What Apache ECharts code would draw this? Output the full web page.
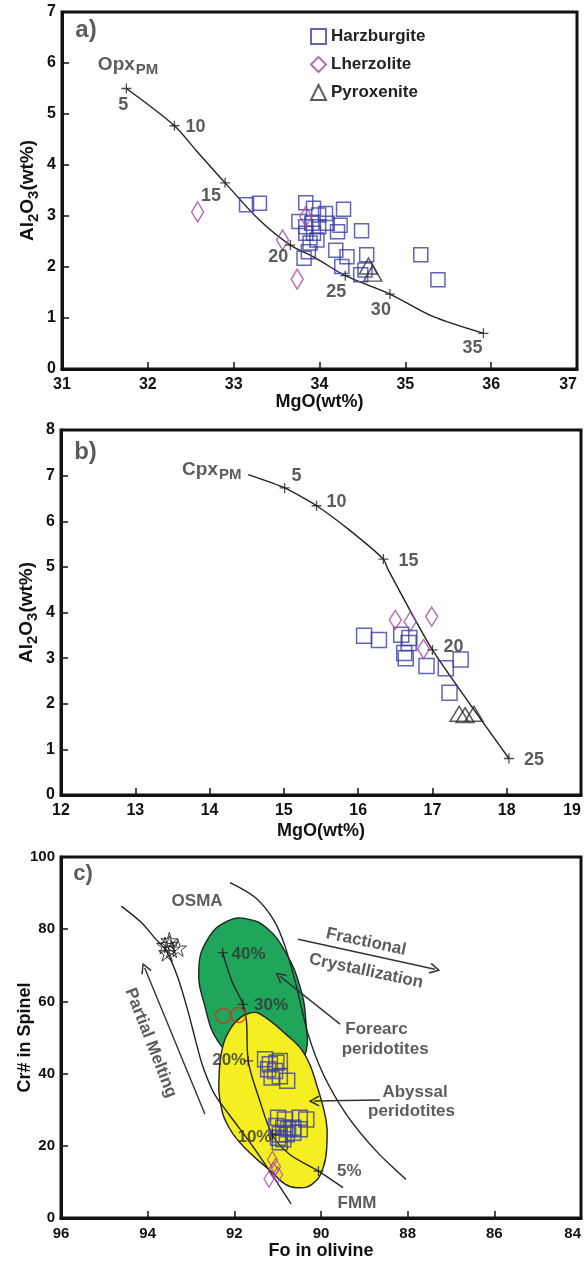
<!DOCTYPE html>
<html>
<head>
<meta charset="utf-8">
<script src="https://cdn.jsdelivr.net/npm/echarts@6/dist/echarts.min.js"></script>
<style>
  html, body { margin: 0; padding: 0; background: #fff; }
  #chart { width: 587px; height: 1261px; }
</style>
</head>
<body>
<div id="chart"></div>
<script>
// ---------- (a) Orthopyroxene: Al2O3 vs MgO ----------
const opxCurve = [[31.75,5.50],[32.31,4.77],[32.56,4.29],[32.90,3.65],[33.30,2.92],[33.66,2.43],[33.96,2.17],[34.30,1.83],[34.82,1.47],[35.32,1.03],[35.91,0.70]];
const opxMeltPoints = [[31.75,5.50],[32.31,4.77],[32.90,3.65],[33.66,2.43],[34.30,1.83],[34.82,1.47],[35.91,0.70]];
const opxMeltSteps = ['5','10','15','20','25','30','35'];
const harzA = [[33.15,3.22],[33.30,3.25],[33.84,3.26],[33.93,3.15],[33.99,3.02],[34.07,3.05],[34.28,3.13],[33.76,2.89],[33.84,2.79],[33.91,2.86],[33.99,2.79],[34.09,2.86],[34.24,2.82],[34.21,2.69],[34.49,2.71],[33.84,2.66],[33.93,2.66],[33.89,2.47],[33.97,2.53],[33.82,2.17],[33.87,2.30],[34.19,2.33],[34.32,2.20],[34.55,2.24],[34.26,2.01],[34.48,1.85],[34.53,1.94],[35.18,2.24],[35.38,1.75]];
const lherzA = [[32.58,3.08],[33.57,2.53],[33.74,1.76],[33.84,2.99]];
const pyroxA = [[34.57,2.02],[34.62,1.88]];

// ---------- (b) Clinopyroxene: Al2O3 vs MgO ----------
const cpxCurve = [[14.52,7.02],[15.01,6.73],[15.44,6.34],[15.88,5.81],[16.34,5.17],[16.40,4.95],[17.00,3.18],[18.03,0.80]];
const cpxMeltPoints = [[15.01,6.73],[15.44,6.34],[16.34,5.17],[17.00,3.18],[18.03,0.80]];
const cpxMeltSteps = ['5','10','15','20','25'];
const harzB = [[16.08,3.49],[16.28,3.40],[16.58,3.51],[16.69,3.44],[16.68,3.33],[16.62,3.11],[16.64,3.00],[16.92,2.83],[17.18,2.78],[17.38,2.97],[17.23,2.24]];
const lherzB = [[16.50,3.84],[16.70,3.80],[16.99,3.91],[16.88,3.20]];
const pyroxB = [[17.36,1.78],[17.44,1.75],[17.56,1.78]];

// ---------- (c) Cr# in spinel vs Fo in olivine ----------
const forearcField = [[92.15,82.3],[91.69,82.8],[91.23,80.1],[90.81,73.4],[90.49,64.3],[90.35,54.6],[90.37,44.9],[90.72,39.3],[91.30,39.3],[91.87,43.5],[92.38,49.0],[92.68,58.7],[92.82,69.0],[92.61,77.3]];
const abyssalField = [[91.64,56.8],[91.42,56.6],[90.82,51.0],[90.38,45.4],[90.08,36.1],[89.88,26.9],[89.86,21.3],[89.95,13.9],[90.21,9.3],[90.56,8.4],[90.82,9.3],[91.16,13.0],[91.69,18.6],[92.12,25.0],[92.33,32.4],[92.35,39.9],[92.29,46.3],[92.12,51.8],[91.86,55.5]];
const osmaLeft = [[94.61,86.4],[94.14,81.8],[93.84,77.6],[93.57,74.0],[93.30,66.5],[93.07,57.3],[92.89,49.0],[92.73,42.1],[92.47,34.6],[92.13,28.8],[91.50,18.6],[90.69,3.9]];
const osmaRight = [[92.10,92.9],[91.51,88.7],[91.08,82.3],[90.82,74.9],[90.56,63.8],[90.30,51.0],[89.95,39.9],[89.42,28.8],[88.73,18.6],[88.04,10.7]];
const fmmCurve = [[92.27,73.5],[92.06,65.7],[91.80,59.2],[91.72,54.6],[91.68,43.5],[91.41,32.4],[91.12,23.0],[90.72,17.6],[90.06,13.0],[89.49,8.4]];
const fmmMeltPoints = [[92.27,73.5],[91.80,59.2],[91.68,43.5],[91.12,23.0],[90.06,13.0]];
const fmmMeltSteps = ['40%','30%','20%','10%','5%'];
const harzC = [[91.29,44.0],[91.18,42.6],[91.03,43.0],[90.95,43.5],[91.22,41.2],[91.06,40.7],[91.14,38.9],[90.95,39.3],[90.78,38.0],[90.99,27.8],[90.83,27.3],[90.49,27.8],[90.34,27.3],[91.03,25.5],[90.87,25.0],[90.76,24.6],[90.64,25.0],[90.49,24.6],[90.95,23.2],[90.79,23.2],[90.64,23.6],[90.99,22.2],[90.87,21.8],[90.95,21.0]];
const lherzC = [[91.12,16.2],[91.05,14.2],[91.00,12.0],[91.20,10.8],[91.10,13.2]];
const starsC = [[93.60,75.5],[93.50,76.8],[93.45,74.5],[93.55,73.5],[93.30,74.8],[93.50,75.8]];
const circlesC = [[92.26,56.0],[91.91,56.2]];
const arrowsC = [
  [[90.53,77.2],[87.37,68.9]],   // fractional crystallization
  [[89.56,53.7],[90.95,67.0]],   // forearc pointer
  [[88.64,32.7],[90.16,32.4]],   // abyssal pointer
  [[92.68,28.8],[94.07,69.3]]    // partial melting
];

// ---------- styling ----------
const FONT = "'Liberation Sans', Arial, Helvetica, sans-serif";
const INK = '#111';
const TXT = '#333';
const BLUE = '#3b3ea6';
const MAGENTA = '#a646a8';
const PLUS = 'path://M0,4.35H10V5.65H0Z M4.35,0H5.65V10H4.35Z';
const STAR = 'path://M50,0 L61,35 L98,35 L68,57 L79,91 L50,70 L21,91 L32,57 L2,35 L39,35 Z';
const CHEVRON = 'path://M5,0 L10,9 L8.9,10 L5,2.8 L1.1,10 L0,9 Z';

const grids = [
  { left: 62, top: 12, width: 515, height: 357 },
  { left: 61, top: 430, width: 520, height: 365 },
  { left: 61, top: 857, width: 520, height: 361 }
].map(g => Object.assign({
  show: true, borderColor: INK, borderWidth: 3, backgroundColor: 'transparent',
  containLabel: false, outerBoundsMode: 'none'
}, g));

function valueAxis(extra, labelSize) {
  return Object.assign({
    type: 'value',
    axisLine: { show: true, onZero: false, lineStyle: { color: INK, width: 3 } },
    axisTick: { show: true, inside: true, length: 7, lineStyle: { color: INK, width: 1.5 } },
    splitLine: { show: false },
    nameLocation: 'middle',
    nameMoveOverlap: false,
    nameTextStyle: { color: INK, fontFamily: FONT, fontWeight: 'bold', fontSize: 18 }
  }, extra, {
    axisLabel: Object.assign({
      color: INK, fontFamily: FONT, fontWeight: 'bold', fontSize: labelSize,
      showMinLabel: true, showMaxLabel: true, hideOverlap: false
    }, extra.axisLabel || {})
  });
}

const oxideName = '{n|Al}{s|2}{n|O}{s|3}{n|(wt%)}';
const oxideRich = {
  n: { fontFamily: FONT, fontWeight: 'bold', fontSize: 19, color: INK },
  s: { fontFamily: FONT, fontWeight: 'bold', fontSize: 15, color: INK, padding: [11, 0, 0, 0] }
};

const xAxes = [
  valueAxis({ gridIndex: 0, min: 31, max: 37, interval: 1, name: 'MgO(wt%)', nameGap: 24, axisLabel: { margin: 8, alignMaxLabel: 'right' } }, 16),
  valueAxis({ gridIndex: 1, min: 12, max: 19, interval: 1, name: 'MgO(wt%)', nameGap: 27, axisLabel: { margin: 8, alignMaxLabel: 'right' } }, 16),
  // Fo decreases to the right, so the right-most label is the axis minimum
  valueAxis({ gridIndex: 2, min: 84, max: 96, interval: 2, inverse: true, name: 'Fo in olivine', nameGap: 24, axisLabel: { margin: 8, alignMinLabel: 'right' } }, 15)
];
const yAxes = [
  valueAxis({ gridIndex: 0, min: 0, max: 7, interval: 1, name: oxideName, nameRotate: 90, nameGap: 21, axisLabel: { margin: 6 } }, 16),
  valueAxis({ gridIndex: 1, min: 0, max: 8, interval: 1, name: oxideName, nameRotate: 90, nameGap: 21, axisLabel: { margin: 6 } }, 16),
  valueAxis({ gridIndex: 2, min: 0, max: 100, interval: 20, name: 'Cr# in Spinel', nameRotate: 90, nameGap: 27, axisLabel: { margin: 6 } }, 15)
];
yAxes[0].nameTextStyle = Object.assign({}, yAxes[0].nameTextStyle, { rich: oxideRich });
yAxes[1].nameTextStyle = Object.assign({}, yAxes[1].nameTextStyle, { rich: oxideRich });

function on(gi) { return { xAxisIndex: gi, yAxisIndex: gi }; }

function curve(gi, pts, smooth) {
  return Object.assign({
    type: 'line', data: pts, smooth: smooth, symbol: 'none', silent: true, z: 3,
    lineStyle: { color: '#222', width: 1.4 }
  }, on(gi));
}

function meltTicks(gi, pts, steps, offsets, fontSize) {
  return Object.assign({
    type: 'scatter', symbol: PLUS, symbolSize: 10, silent: true, z: 6,
    itemStyle: { color: '#222' },
    label: { show: true, position: 'inside', color: TXT, fontFamily: FONT, fontWeight: 'bold', fontSize: fontSize },
    data: pts.map((p, i) => ({ value: p, label: { formatter: steps[i], offset: offsets[i] } }))
  }, on(gi));
}

function samples(gi, name, pts, symbol, size, color, width) {
  return Object.assign({
    type: 'scatter', name: name, data: pts, symbol: symbol, symbolSize: size, z: 5,
    itemStyle: { color: 'rgba(255,255,255,0)', borderColor: color, borderWidth: width || 1.5 },
    emphasis: { disabled: true }
  }, on(gi));
}

function texts(gi, items) {
  return Object.assign({
    type: 'scatter', symbol: 'circle', symbolSize: 1, silent: true, z: 8,
    itemStyle: { color: 'rgba(0,0,0,0)' },
    data: items.map(t => ({
      value: t.at,
      label: Object.assign({
        show: true, position: 'inside', formatter: t.text, rotate: t.rotate || 0,
        color: TXT, fontFamily: FONT, fontWeight: 'bold', fontSize: t.size || 17, lineHeight: (t.size || 17) + 2
      }, t.extra || {})
    }))
  }, on(gi));
}

function field(gi, pts, fill) {
  return Object.assign({
    type: 'custom', silent: true, z: 1,
    data: [pts[0]],
    renderItem: (params, api) => ({
      type: 'polygon',
      shape: { points: pts.map(p => api.coord(p)), smooth: 0.45 },
      style: { fill: fill, stroke: '#222', lineWidth: 1.4 }
    })
  }, on(gi));
}

const pmRich = {
  a: { fontFamily: FONT, fontWeight: 'bold', fontSize: 19, color: TXT },
  b: { fontFamily: FONT, fontWeight: 'bold', fontSize: 15, color: TXT, padding: [10, 0, 0, 1] }
};

const series = [
  // (a)
  curve(0, opxCurve, 0.3),
  meltTicks(0, opxMeltPoints, opxMeltSteps, [[-3,17],[21,1],[-14,13],[-12,12],[-9,16],[-9,16],[-11,15]], 18),
  samples(0, 'Harzburgite', harzA, 'rect', 14, BLUE, 1.5),
  samples(0, 'Lherzolite', lherzA, 'diamond', [12, 20], MAGENTA, 1.5),
  samples(0, 'Pyroxenite', pyroxA, 'triangle', [18, 16], '#333', 1.5),
  texts(0, [
    { at: [31.28, 6.64], text: 'a)', size: 24 },
    { at: [31.77, 5.97], text: '{a|Opx}{b|PM}', extra: { rich: pmRich } }
  ]),
  // (b)
  curve(1, cpxCurve, 0.2),
  meltTicks(1, cpxMeltPoints, cpxMeltSteps, [[12,-12],[20,-4],[25,2],[21,-3],[25,2]], 18),
  samples(1, 'Harzburgite', harzB, 'rect', 15, BLUE, 1.5),
  samples(1, 'Lherzolite', lherzB, 'diamond', [12, 19], MAGENTA, 1.5),
  samples(1, 'Pyroxenite', pyroxB, 'triangle', [18, 15], '#333', 1.5),
  texts(1, [
    { at: [12.33, 7.5], text: 'b)', size: 24 },
    { at: [14.03, 7.13], text: '{a|Cpx}{b|PM}', extra: { rich: pmRich } }
  ]),
  // (c)
  field(2, forearcField, '#1fa65b'),
  field(2, abyssalField, '#f5ef22'),
  curve(2, osmaLeft, 0.3),
  curve(2, osmaRight, 0.3),
  curve(2, fmmCurve, 0.3),
  meltTicks(2, fmmMeltPoints, fmmMeltSteps, [[26,2],[28,1],[-19,-1],[-18,2],[31,0]], 17),
  Object.assign({
    type: 'lines', coordinateSystem: 'cartesian2d', silent: true, z: 4,
    symbol: ['none', CHEVRON], symbolSize: [9, 11],
    lineStyle: { color: '#333', width: 1.4, opacity: 1 },
    data: arrowsC.map(c => ({ coords: c }))
  }, on(2)),
  samples(2, 'Harzburgite', harzC, 'rect', 15, BLUE, 1.5),
  samples(2, 'Lherzolite', lherzC, 'diamond', [10, 16], MAGENTA, 1.3),
  samples(2, 'stars', starsC, STAR, 17, '#111', 1),
  samples(2, 'circles', circlesC, 'circle', 15, '#d2301f', 1.5),
  texts(2, [
    { at: [95.49, 95.3], text: 'c)', size: 22 },
    { at: [92.86, 87.8], text: 'OSMA' },
    { at: [89.17, 4.2], text: 'FMM' },
    { at: [88.96, 76.5], text: 'Fractional', rotate: -12 },
    { at: [88.96, 68.4], text: 'Crystallization', rotate: -12 },
    { at: [88.72, 52.3], text: 'Forearc' },
    { at: [88.52, 46.7], text: 'peridotites' },
    { at: [87.83, 34.7], text: 'Abyssal' },
    { at: [87.91, 29.6], text: 'peridotites' },
    { at: [93.93, 48.5], text: 'Partial Melting', rotate: -68.6 }
  ])
];

const chart = echarts.init(document.getElementById('chart'), null, { renderer: 'canvas' });
chart.setOption({
  animation: false,
  backgroundColor: '#fff',
  textStyle: { fontFamily: FONT },
  grid: grids,
  xAxis: xAxes,
  yAxis: yAxes,
  legend: {
    data: ['Harzburgite', 'Lherzolite', 'Pyroxenite'],
    orient: 'vertical', left: 305, top: 23, itemGap: 11,
    itemWidth: 15, itemHeight: 15, selectedMode: false,
    textStyle: { color: '#222', fontFamily: FONT, fontWeight: 'bold', fontSize: 17 }
  },
  tooltip: { show: false },
  series: series
});
</script>
</body>
</html>
